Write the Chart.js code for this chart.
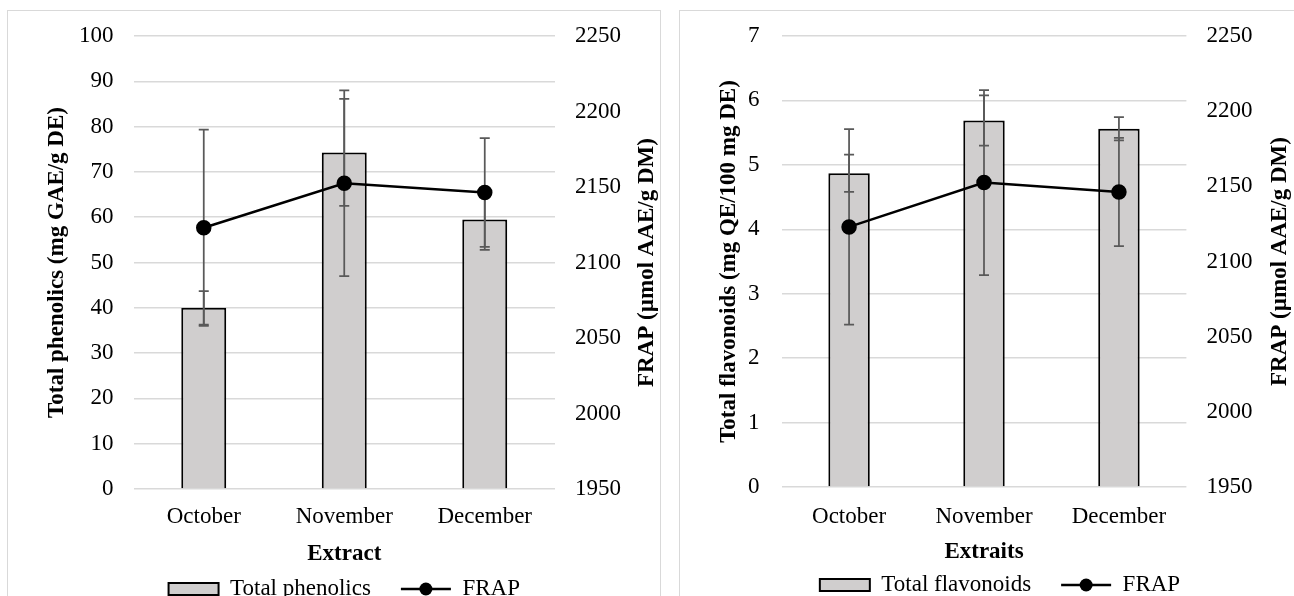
<!DOCTYPE html>
<html>
<head>
<meta charset="utf-8">
<script src="https://cdn.jsdelivr.net/npm/chart.js@4.4.1/dist/chart.umd.min.js"></script>
<style>
  html, body { margin: 0; padding: 0; background: #fff; width: 1294px; height: 596px; overflow: hidden; }
  .panel { position: absolute; border: 1.5px solid #d9d9d9; box-sizing: border-box; }
  #p1 { left: 7px; top: 10px; width: 654px; height: 640px; }
  #p2 { left: 679px; top: 10px; width: 640px; height: 640px; }
  canvas { position: absolute; }
  #c1 { left: 8px; top: 12px; }
  #c2 { left: 680px; top: 12px; }
</style>
</head>
<body>
<div class="panel" id="p1"></div>
<div class="panel" id="p2"></div>
<canvas id="c1" width="652" height="600"></canvas>
<canvas id="c2" width="614" height="600"></canvas>
<script>
// months (same for both charts)
const months = ["October", "November", "December"];

// left chart
const phenolics = [40.0, 74.3, 59.5];
const phenolicsErr = [3.7, 11.8, 6.7];
// right chart
const flavonoids = [4.87, 5.69, 5.56];
const flavonoidsErr = [0.29, 0.39, 0.18];
// FRAP, right axis on both charts
const frap = [2123, 2152.5, 2146.3];
const frapErr = [65, 61.5, 36];

const FONT = "'Liberation Serif', 'Times New Roman', serif";
const BAR_FILL = "#d0cece";
const GRID = "#d9d9d9";

// error bars for both series, drawn right after the bars so the line sits on top
const errorBars = {
  id: "errorBars",
  afterDatasetDraw(chart, args, opts) {
    if (args.index !== 0) return;
    const ctx = chart.ctx;
    const xs = chart.scales.x;
    ctx.save();
    ctx.strokeStyle = "#595959";
    ctx.lineWidth = 1.75;
    opts.sets.forEach(s => {
      const ys = chart.scales[s.axis];
      s.values.forEach((v, i) => {
        const cx = xs.getPixelForValue(i);
        const top = ys.getPixelForValue(v + s.errors[i]);
        const bot = ys.getPixelForValue(v - s.errors[i]);
        ctx.beginPath();
        ctx.moveTo(cx, top); ctx.lineTo(cx, bot);
        ctx.moveTo(cx - 5, top); ctx.lineTo(cx + 5, top);
        ctx.moveTo(cx - 5, bot); ctx.lineTo(cx + 5, bot);
        ctx.stroke();
      });
    });
    ctx.restore();
  }
};

// marker on the FRAP legend line + right axis title read bottom-to-top
const extras = {
  id: "extras",
  afterDraw(chart, args, opts) {
    const ctx = chart.ctx;
    const lg = chart.legend;
    if (lg && lg.legendHitBoxes) {
      const idx = lg.legendItems.findIndex(it => it.text === "FRAP");
      const hb = lg.legendHitBoxes[idx];
      if (hb) {
        ctx.save();
        ctx.fillStyle = "#000";
        ctx.beginPath();
        ctx.arc(hb.left + 25, hb.top + 11.5, 6.5, 0, Math.PI * 2);
        ctx.fill();
        ctx.restore();
      }
    }
    const r = chart.scales.y1;
    const area = chart.chartArea;
    ctx.save();
    ctx.font = "bold 23px " + FONT;
    ctx.fillStyle = "#000";
    ctx.textAlign = "center";
    ctx.textBaseline = "middle";
    ctx.translate(r.right - opts.rightTitleOffset, (area.top + area.bottom) / 2);
    ctx.rotate(-Math.PI / 2);
    ctx.fillText(opts.rightTitle, 0, 0);
    ctx.restore();
  }
};

function legendLabels(chart) {
  const items = Chart.defaults.plugins.legend.labels.generateLabels(chart);
  items.forEach(it => {
    it.pointStyle = chart.data.datasets[it.datasetIndex].type === "line" ? "line" : "rect";
  });
  return items;
}

function makeChart(id, cfg) {
  const tickFont = { family: FONT, size: 23 };
  const titleFont = { family: FONT, size: 23, weight: "bold" };
  return new Chart(document.getElementById(id), {
    data: {
      labels: months,
      datasets: [
        {
          type: "bar",
          label: cfg.barLabel,
          data: cfg.bars,
          yAxisID: "y",
          backgroundColor: BAR_FILL,
          borderColor: "#000",
          borderWidth: 2,
          barPercentage: cfg.barPct,
          categoryPercentage: 1,
          order: 2
        },
        {
          type: "line",
          label: "FRAP",
          data: frap,
          yAxisID: "y1",
          borderColor: "#000",
          backgroundColor: "#000",
          borderWidth: 2.5,
          pointRadius: 6.5,
          pointBackgroundColor: "#000",
          pointBorderColor: "#000",
          tension: 0,
          order: 1
        }
      ]
    },
    options: {
      responsive: false,
      devicePixelRatio: 1,
      animation: false,
      layout: { padding: { top: 24, left: cfg.padLeft, right: 0, bottom: cfg.padBottom } },
      plugins: {
        tooltip: { enabled: false },
        legend: {
          position: "bottom",
          fullSize: cfg.legendFull,
          labels: {
            font: tickFont,
            color: "#000",
            usePointStyle: true,
            pointStyleWidth: 50,
            boxHeight: 12,
            padding: 30,
            sort: (a, b) => a.datasetIndex - b.datasetIndex,
            generateLabels: legendLabels
          }
        },
        errorBars: {
          sets: [
            { axis: "y", values: cfg.bars, errors: cfg.barErr },
            { axis: "y1", values: frap, errors: frapErr }
          ]
        },
        extras: { rightTitle: "FRAP (µmol AAE/g DM)", rightTitleOffset: cfg.rightTitleOffset }
      },
      scales: {
        x: {
          grid: { display: false, drawTicks: false },
          border: { display: false },
          ticks: { font: tickFont, color: "#000", padding: cfg.xTickPad },
          title: { display: true, text: cfg.xTitle, font: titleFont, color: "#000", padding: { top: 0, bottom: cfg.xTitlePad } },
          afterFit(scale) { scale.height = cfg.xHeight; }
        },
        y: {
          position: "left",
          min: 0,
          max: cfg.yMax,
          grid: { color: GRID, lineWidth: 1.5, drawTicks: true, tickLength: cfg.yTickLen, tickColor: "transparent" },
          border: { display: false },
          ticks: { stepSize: cfg.yStep, font: tickFont, color: "#000", padding: 0 },
          title: { display: true, text: cfg.yTitle, font: titleFont, color: "#000", padding: { top: cfg.yTitlePad, bottom: 0 } },
          afterFit(scale) { scale.width = cfg.leftWidth; }
        },
        y1: {
          position: "right",
          min: 1950,
          max: 2250,
          grid: { drawOnChartArea: false, drawTicks: true, tickLength: 20, tickColor: "transparent" },
          border: { display: false },
          ticks: { stepSize: 50, font: tickFont, color: "#000", padding: 0, callback: v => String(v) },
          afterFit(scale) { scale.width = cfg.rightWidth; }
        }
      }
    },
    plugins: [errorBars, extras]
  });
}

makeChart("c1", {
  bars: phenolics,
  barErr: phenolicsErr,
  barLabel: "Total phenolics",
  barPct: 0.32,
  yMax: 100,
  yStep: 10,
  yTitle: "Total phenolics (mg GAE/g DE)",
  xTitle: "Extract",
  padLeft: 0,
  leftWidth: 125.5,
  rightWidth: 105,
  yTickLen: 20,
  yTitlePad: 35,
  xTickPad: 14,
  xHeight: 58.5,
  xTitlePad: -20,
  padBottom: 1.5,
  legendFull: false,
  rightTitleOffset: 13
});

makeChart("c2", {
  bars: flavonoids,
  barErr: flavonoidsErr,
  barLabel: "Total flavonoids",
  barPct: 0.307,
  yMax: 7,
  yStep: 1,
  yTitle: "Total flavonoids (mg QE/100 mg DE)",
  xTitle: "Extraits",
  padLeft: 26,
  leftWidth: 75.6,
  rightWidth: 107.6,
  yTickLen: 22,
  yTitlePad: 9,
  xTickPad: 16,
  xHeight: 56.5,
  xTitlePad: -22,
  padBottom: 5.5,
  legendFull: true,
  rightTitleOffset: 14
});
</script>
</body>
</html>
